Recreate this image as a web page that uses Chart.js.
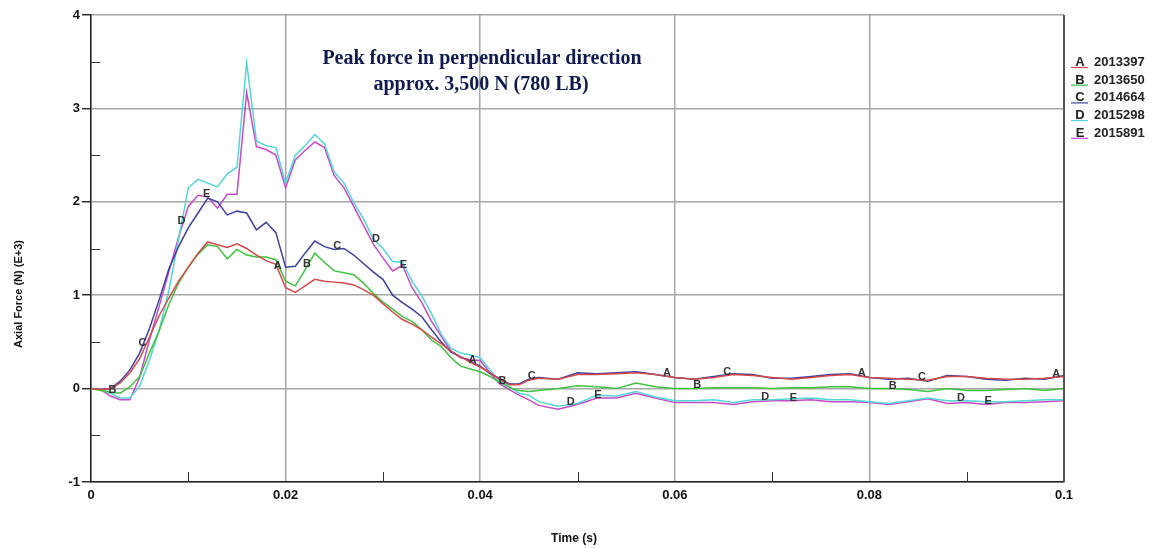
<!DOCTYPE html>
<html>
<head>
<meta charset="utf-8">
<title>Axial force</title>
<script src="https://cdn.jsdelivr.net/npm/chart.js@4.4.1/dist/chart.umd.min.js"></script>
<style>
  html, body { margin: 0; padding: 0; background: #fff; }
  #wrap { width: 1153px; height: 548px; }
</style>
</head>
<body>
<div id="wrap"><canvas id="forceChart" width="1153" height="548"></canvas></div>
<script>
// time in ms
const timeMs = [
  0, 1, 2, 3, 4, 5, 6, 7, 8, 9, 10, 11, 12, 13, 14, 15, 16, 17, 18, 19, 20,
  21, 22, 23, 24, 25, 26, 27, 28, 29, 30, 31, 32, 33, 34, 35, 36, 37, 38, 39, 40,
  41, 42, 43, 44, 45, 46, 48, 50, 52, 54, 56, 58, 60, 62, 64, 66, 68, 70, 72, 74,
  76, 78, 80, 82, 84, 86, 88, 90, 92, 94, 96, 98, 100,
];

// axial force, kN (E+3)
const seriesA = [
  0, -0.01, 0.0, 0.06, 0.17, 0.32, 0.55, 0.78, 0.97, 1.15, 1.3, 1.45, 1.57, 1.54, 1.51, 1.55, 1.5, 1.43, 1.37, 1.33, 1.08,
  1.03, 1.1, 1.17, 1.15, 1.14, 1.13, 1.11, 1.06, 1.0, 0.91, 0.82, 0.74, 0.69, 0.63, 0.55, 0.48, 0.4, 0.34, 0.28, 0.23,
  0.17, 0.1, 0.04, 0.04, 0.09, 0.11, 0.1, 0.15, 0.15, 0.16, 0.17, 0.15, 0.12, 0.1, 0.12, 0.15, 0.14, 0.12, 0.1, 0.12,
  0.14, 0.15, 0.12, 0.11, 0.1, 0.09, 0.13, 0.13, 0.11, 0.1, 0.1, 0.11, 0.13,
];
const seriesB = [
  0, -0.02, -0.04, -0.05, 0.02, 0.13, 0.38, 0.62, 0.9, 1.13, 1.3, 1.44, 1.54, 1.52, 1.39, 1.49, 1.43, 1.41, 1.41, 1.38, 1.15,
  1.1, 1.27, 1.45, 1.35, 1.26, 1.24, 1.22, 1.13, 1.02, 0.93, 0.85, 0.77, 0.72, 0.63, 0.52, 0.45, 0.33, 0.24, 0.21, 0.18,
  0.13, 0.07, 0.01, -0.02, -0.03, -0.02, 0.0, 0.03, 0.02, 0.0, 0.06, 0.02, 0.0, 0.0, 0.01, 0.01, 0.01, 0.0, 0.01, 0.01,
  0.02, 0.02, 0.0, 0.0, -0.01, -0.03, 0.0, -0.02, -0.02, -0.01, 0.0, -0.02, 0.0,
];
const seriesC = [
  0, -0.01, 0.0, 0.08, 0.2, 0.38, 0.64, 0.95, 1.28, 1.52, 1.72, 1.88, 2.04, 2.0, 1.86, 1.9, 1.88, 1.7, 1.78, 1.67, 1.3,
  1.31, 1.45, 1.58, 1.52, 1.49, 1.5, 1.43, 1.34, 1.25, 1.17, 1.0, 0.92, 0.85, 0.77, 0.63, 0.5, 0.39, 0.34, 0.29, 0.24,
  0.16, 0.11, 0.05, 0.05, 0.1, 0.12, 0.1, 0.17, 0.16, 0.17, 0.18, 0.15, 0.12, 0.1, 0.13, 0.16, 0.15, 0.11, 0.11, 0.13,
  0.15, 0.16, 0.12, 0.1, 0.11, 0.08, 0.14, 0.13, 0.1, 0.09, 0.11, 0.1, 0.14,
];
const seriesD = [
  0, -0.01, -0.05, -0.1, -0.1, 0.03, 0.3, 0.62, 1.05, 1.6, 2.15, 2.24, 2.2, 2.16, 2.3, 2.37, 3.49, 2.65, 2.6, 2.58, 2.2,
  2.5, 2.6, 2.72, 2.62, 2.32, 2.2, 1.99, 1.82, 1.6, 1.5, 1.36, 1.35, 1.15, 0.99, 0.8, 0.58, 0.43, 0.38, 0.36, 0.33,
  0.2, 0.08, 0.02, -0.05, -0.07, -0.14, -0.19, -0.16, -0.07, -0.08, -0.03, -0.09, -0.13, -0.13, -0.12, -0.15, -0.12, -0.12, -0.11, -0.1,
  -0.12, -0.12, -0.14, -0.16, -0.13, -0.1, -0.13, -0.13, -0.14, -0.14, -0.13, -0.12, -0.12,
];
const seriesE = [
  0, -0.01, -0.08, -0.12, -0.12, 0.12, 0.52, 0.88, 1.25, 1.62, 1.95, 2.07, 2.05, 1.93, 2.08, 2.08, 3.17, 2.59, 2.56, 2.5, 2.15,
  2.45, 2.55, 2.64, 2.58, 2.28, 2.15, 1.95, 1.75, 1.55, 1.4, 1.26, 1.32, 1.08, 0.92, 0.72, 0.56, 0.4, 0.33, 0.31, 0.3,
  0.17, 0.05, -0.01, -0.07, -0.12, -0.18, -0.22, -0.17, -0.1, -0.1, -0.05, -0.1, -0.15, -0.15, -0.15, -0.17, -0.14, -0.13, -0.13, -0.12,
  -0.14, -0.14, -0.15, -0.17, -0.14, -0.11, -0.16, -0.15, -0.17, -0.15, -0.15, -0.14, -0.13,
];

const seriesLetters = ["A", "B", "C", "D", "E"];
const seriesIds = ["2013397", "2013650", "2014664", "2015298", "2015891"];
const seriesColors = ["#d2494b", "#3fc23f", "#3f3f9e", "#52d6d6", "#c64bc6"];

// where the curve letters sit (ms)
const letterTimes = [
  [19.2, 39.2, 59.2, 79.2, 99.2],
  [2.2, 22.2, 42.3, 62.3, 82.4],
  [5.3, 25.3, 45.3, 65.4, 85.4],
  [9.3, 29.3, 49.3, 69.3, 89.4],
  [11.9, 32.1, 52.1, 72.2, 92.2],
];

const xTicks = [0, 0.02, 0.04, 0.06, 0.08, 0.1];
const xMinorTicks = [0.01, 0.03, 0.05, 0.07, 0.09];
const yMinorTicks = [-0.5, 0.5, 1.5, 2.5, 3.5];

const noteLines = [
  "Peak force in perpendicular direction",
  "approx. 3,500 N (780 LB)",
];

const allSeries = [seriesA, seriesB, seriesC, seriesD, seriesE];

const narrow = '"Liberation Sans Narrow", "Liberation Sans", Arial, sans-serif';
const sans = '"Liberation Sans", Arial, sans-serif';

const extrasPlugin = {
  id: "extras",
  afterDraw(chart) {
    const { ctx, chartArea, scales } = chart;
    const xs = scales.x;
    const ys = scales.y;
    ctx.save();

    // minor ticks
    ctx.strokeStyle = "#333";
    ctx.lineWidth = 1;
    yMinorTicks.forEach((v) => {
      const y = Math.round(ys.getPixelForValue(v)) + 0.5;
      ctx.beginPath();
      ctx.moveTo(chartArea.left, y);
      ctx.lineTo(chartArea.left + 9, y);
      ctx.stroke();
    });
    xMinorTicks.forEach((v) => {
      const x = Math.round(xs.getPixelForValue(v)) + 0.5;
      ctx.beginPath();
      ctx.moveTo(x, chartArea.bottom);
      ctx.lineTo(x, chartArea.bottom - 10);
      ctx.stroke();
    });

    // right frame
    ctx.strokeStyle = "#555";
    ctx.lineWidth = 2;
    ctx.beginPath();
    ctx.moveTo(chartArea.right, chartArea.top);
    ctx.lineTo(chartArea.right, chartArea.bottom);
    ctx.stroke();

    // letters on curves
    ctx.font = "bold 11px " + sans;
    ctx.fillStyle = "#333";
    ctx.textAlign = "center";
    ctx.textBaseline = "middle";
    letterTimes.forEach((times, i) => {
      const vals = allSeries[i];
      times.forEach((t) => {
        let k = 0;
        while (k < timeMs.length - 2 && timeMs[k + 1] < t) k++;
        const f = (t - timeMs[k]) / (timeMs[k + 1] - timeMs[k]);
        const v = vals[k] + (vals[k + 1] - vals[k]) * f;
        const x = xs.getPixelForValue(t / 1000);
        const y = ys.getPixelForValue(v) - 3;
        ctx.fillText(seriesLetters[i], x, y);
      });
    });

    // legend
    ctx.textBaseline = "alphabetic";
    seriesLetters.forEach((letter, i) => {
      const y = 66 + i * 17.7;
      ctx.strokeStyle = seriesColors[i];
      ctx.lineWidth = 1.2;
      ctx.beginPath();
      ctx.moveTo(1071, y + 1.5);
      ctx.lineTo(1088, y + 1.5);
      ctx.stroke();
      ctx.fillStyle = "#222";
      ctx.font = "bold 13px " + sans;
      ctx.textAlign = "center";
      ctx.fillText(letter, 1080, y);
      ctx.textAlign = "left";
      ctx.fillText(seriesIds[i], 1094, y);
    });

    // note
    ctx.fillStyle = "#101a4e";
    ctx.font = 'bold 20px "Liberation Serif", "Times New Roman", serif';
    ctx.textAlign = "center";
    ctx.fillText(noteLines[0], 482, 64);
    ctx.fillText(noteLines[1], 481, 90);

    // axis titles
    ctx.fillStyle = "#111";
    ctx.font = "bold 12px " + narrow;
    ctx.fillText("Time (s)", 574, 542);
    ctx.save();
    ctx.translate(22, 294);
    ctx.rotate(-Math.PI / 2);
    ctx.font = "bold 11px " + sans;
    ctx.fillText("Axial Force (N) (E+3)", 0, 0);
    ctx.restore();

    ctx.restore();
  },
};

const ctx = document.getElementById("forceChart").getContext("2d");
new Chart(ctx, {
  type: "line",
  data: {
    datasets: allSeries.map((vals, i) => ({
      label: seriesLetters[i] + " " + seriesIds[i],
      data: vals.map((v, k) => ({ x: timeMs[k] / 1000, y: v })),
      borderColor: seriesColors[i],
      borderWidth: 1.5,
      pointRadius: 0,
      tension: 0,
      fill: false,
    })),
  },
  options: {
    responsive: false,
    animation: false,
    layout: { padding: { top: 15, right: 89, left: 0, bottom: 0 } },
    plugins: {
      legend: { display: false },
      tooltip: { enabled: false },
    },
    scales: {
      x: {
        type: "linear",
        min: 0,
        max: 0.1,
        afterFit: (s) => { s.height = 66; },
        afterBuildTicks: (s) => { s.ticks = xTicks.map((v) => ({ value: v })); },
        ticks: {
          color: "#111",
          font: { family: narrow, size: 13, weight: "bold" },
          padding: 6,
          maxRotation: 0,
          callback: (v) => String(Number(v.toFixed(2))),
        },
        grid: { color: "#a6a6a6", lineWidth: 1.5, drawTicks: false },
        border: { color: "#222", width: 1.5 },
      },
      y: {
        min: -1,
        max: 4,
        afterFit: (s) => { s.width = 91; },
        ticks: {
          stepSize: 1,
          color: "#111",
          font: { family: narrow, size: 13, weight: "bold" },
          padding: 2,
        },
        grid: { color: "#a6a6a6", lineWidth: 1.5, tickLength: 9, tickColor: "#333" },
        border: { color: "#222", width: 1.5 },
      },
    },
  },
  plugins: [extrasPlugin],
});
</script>
</body>
</html>
